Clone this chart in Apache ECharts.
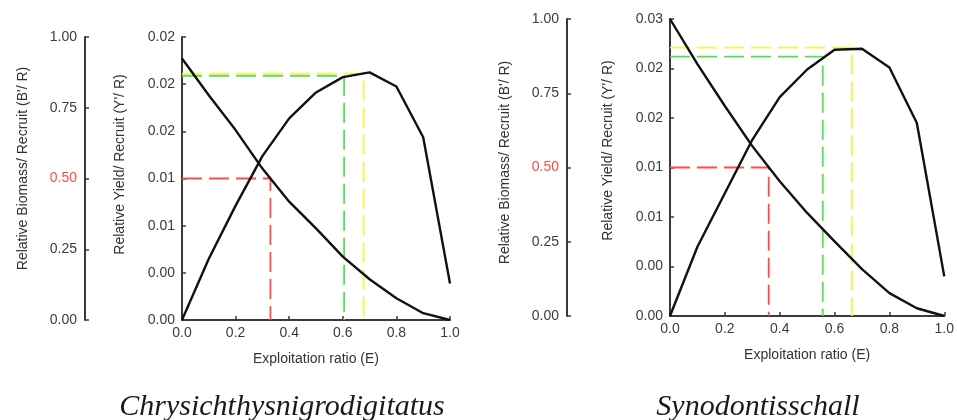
<!DOCTYPE html>
<html>
<head>
<meta charset="utf-8">
<script src="https://cdn.jsdelivr.net/npm/echarts@6/dist/echarts.min.js"></script>
<style>
  html, body { margin: 0; padding: 0; background: #fff; }
  #chart { width: 957px; height: 420px; }
</style>
</head>
<body>
<div id="chart"></div>
<script>
// exploitation ratio E
const ratio = [0, 0.1, 0.2, 0.3, 0.4, 0.5, 0.6, 0.7, 0.8, 0.9, 1.0];

// Chrysichthys nigrodigitatus
const leftYield = [0, 0.0052, 0.0097, 0.0139, 0.0171, 0.0193, 0.0206, 0.0210, 0.0198, 0.0155, 0.0031];
const leftBiomass = [0.924, 0.794, 0.671, 0.535, 0.418, 0.324, 0.224, 0.144, 0.077, 0.024, 0];
const leftYieldTicks = ["0.00", "0.00", "0.01", "0.01", "0.02", "0.02", "0.02"];
const leftE50 = [0.33, 0.5];      // [E, B'/R]
const leftE01 = [0.605, 0.0207];  // [E, Y'/R]
const leftEmax = [0.678, 0.0209];

// Synodontis schall
const rightYield = [0, 0.0070, 0.0124, 0.0178, 0.0221, 0.0249, 0.0269, 0.0270, 0.0251, 0.0195, 0.0040];
const rightBiomass = [1.0, 0.848, 0.707, 0.572, 0.454, 0.347, 0.251, 0.158, 0.077, 0.026, 0];
const rightYieldTicks = ["0.00", "0.00", "0.01", "0.01", "0.02", "0.02", "0.03"];
const rightE50 = [0.36, 0.5];
const rightE01 = [0.557, 0.0262];
const rightEmax = [0.664, 0.0271];

const biomassTicks = ["0.00", "0.25", "0.50", "0.75", "1.00"];
const xTicks = ["0.0", "0.2", "0.4", "0.6", "0.8", "1.0"];
const titles = ["Chrysichthysnigrodigitatus", "Synodontisschall"];

const axisColor = "#3a3a3a";
const labelColor = "#3c3c3c";
const font = "Liberation Sans";

function pairs(ys) {
  return ratio.map((e, i) => [e, ys[i]]);
}

function refLine(pt, color, xAxisIndex, yAxisIndex) {
  return {
    type: "line",
    xAxisIndex, yAxisIndex,
    data: [[0, pt[1]], [pt[0], pt[1]], [pt[0], 0]],
    showSymbol: false,
    silent: true,
    lineStyle: { color, width: 1.8, type: [20, 7] },
    z: 1,
  };
}

function curve(ys, xAxisIndex, yAxisIndex) {
  return {
    type: "line",
    xAxisIndex, yAxisIndex,
    data: pairs(ys),
    showSymbol: false,
    silent: true,
    lineStyle: { color: "#111", width: 2.4 },
    z: 3,
  };
}

function xAxis(gridIndex) {
  return {
    type: "value",
    gridIndex,
    min: 0, max: 1, interval: 0.2,
    name: "Exploitation ratio (E)",
    nameLocation: "middle",
    nameGap: 32,
    nameTextStyle: { color: "#333", fontSize: 14, fontFamily: font },
    axisLine: { lineStyle: { color: axisColor, width: 2 } },
    axisTick: { inside: true, length: 4, lineStyle: { color: axisColor, width: 1.5 } },
    axisLabel: {
      color: labelColor, fontSize: 14, margin: 6, fontFamily: font,
      formatter: (v) => xTicks[Math.round(v / 0.2)],
    },
    splitLine: { show: false },
  };
}

function yieldAxis(gridIndex, max, interval, ticks, lift) {
  return {
    type: "value",
    gridIndex,
    position: "left",
    min: 0, max, interval,
    name: "Relative Yield/ Recruit (Y'/ R)",
    nameLocation: "middle",
    nameGap: 55,
    nameTextStyle: { color: "#333", fontSize: 14, fontFamily: font, padding: [0, 0, 0, lift] },
    axisLine: { show: true, lineStyle: { color: axisColor, width: 2 } },
    axisTick: { show: true, inside: true, length: 4, lineStyle: { color: axisColor, width: 1.5 } },
    axisLabel: {
      color: labelColor, fontSize: 14, margin: 7, fontFamily: font,
      formatter: (v) => ticks[Math.round(v / interval)],
    },
    splitLine: { show: false },
  };
}

function biomassAxis(gridIndex, offset, lift) {
  return {
    type: "value",
    gridIndex,
    position: "left",
    offset,
    min: 0, max: 1, interval: 0.25,
    name: "Relative Biomass/ Recruit (B'/ R)",
    nameLocation: "middle",
    nameGap: 55,
    nameTextStyle: { color: "#333", fontSize: 14, fontFamily: font, padding: [0, 0, 0, lift] },
    axisLine: { show: true, lineStyle: { color: axisColor, width: 2 } },
    axisTick: { show: true, inside: true, length: 4, lineStyle: { color: axisColor, width: 1.5 } },
    axisLabel: {
      fontSize: 14, margin: 8, fontFamily: font,
      formatter: (v) => biomassTicks[Math.round(v / 0.25)],
      color: (v) => (Math.abs(v - 0.5) < 1e-6 ? "#ff4a4a" : labelColor),
    },
    splitLine: { show: false },
  };
}

const option = {
  animation: false,
  backgroundColor: "#fff",
  grid: [
    { left: 182, top: 37, width: 268, height: 283 },
    { left: 670, top: 19, width: 280, height: 297 },
  ],
  xAxis: [xAxis(0), xAxis(1)],
  yAxis: [
    yieldAxis(0, 0.024, 0.004, leftYieldTicks, 28),
    biomassAxis(0, 97, 20),
    yieldAxis(1, 0.03, 0.005, rightYieldTicks, 34),
    biomassAxis(1, 103, 10),
  ],
  series: [
    refLine(leftE50, "#ff4d4d", 0, 1),
    refLine(leftE01, "#4ee44e", 0, 0),
    refLine(leftEmax, "#f5f54a", 0, 0),
    curve(leftYield, 0, 0),
    curve(leftBiomass, 0, 1),
    refLine(rightE50, "#ff4d4d", 1, 3),
    refLine(rightE01, "#4ee44e", 1, 2),
    refLine(rightEmax, "#f5f54a", 1, 2),
    curve(rightYield, 1, 2),
    curve(rightBiomass, 1, 3),
  ],
  graphic: [
    {
      type: "text", x: 282, y: 422,
      style: {
        text: titles[0], align: "center", verticalAlign: "bottom",
        font: "italic 30px 'Liberation Serif'", fill: "#1a1a1a",
      },
    },
    {
      type: "text", x: 758, y: 422,
      style: {
        text: titles[1], align: "center", verticalAlign: "bottom",
        font: "italic 30px 'Liberation Serif'", fill: "#1a1a1a",
      },
    },
  ],
};

const chart = echarts.init(document.getElementById("chart"), null, { renderer: "canvas" });
chart.setOption(option);
window.addEventListener("resize", () => chart.resize());
</script>
</body>
</html>
